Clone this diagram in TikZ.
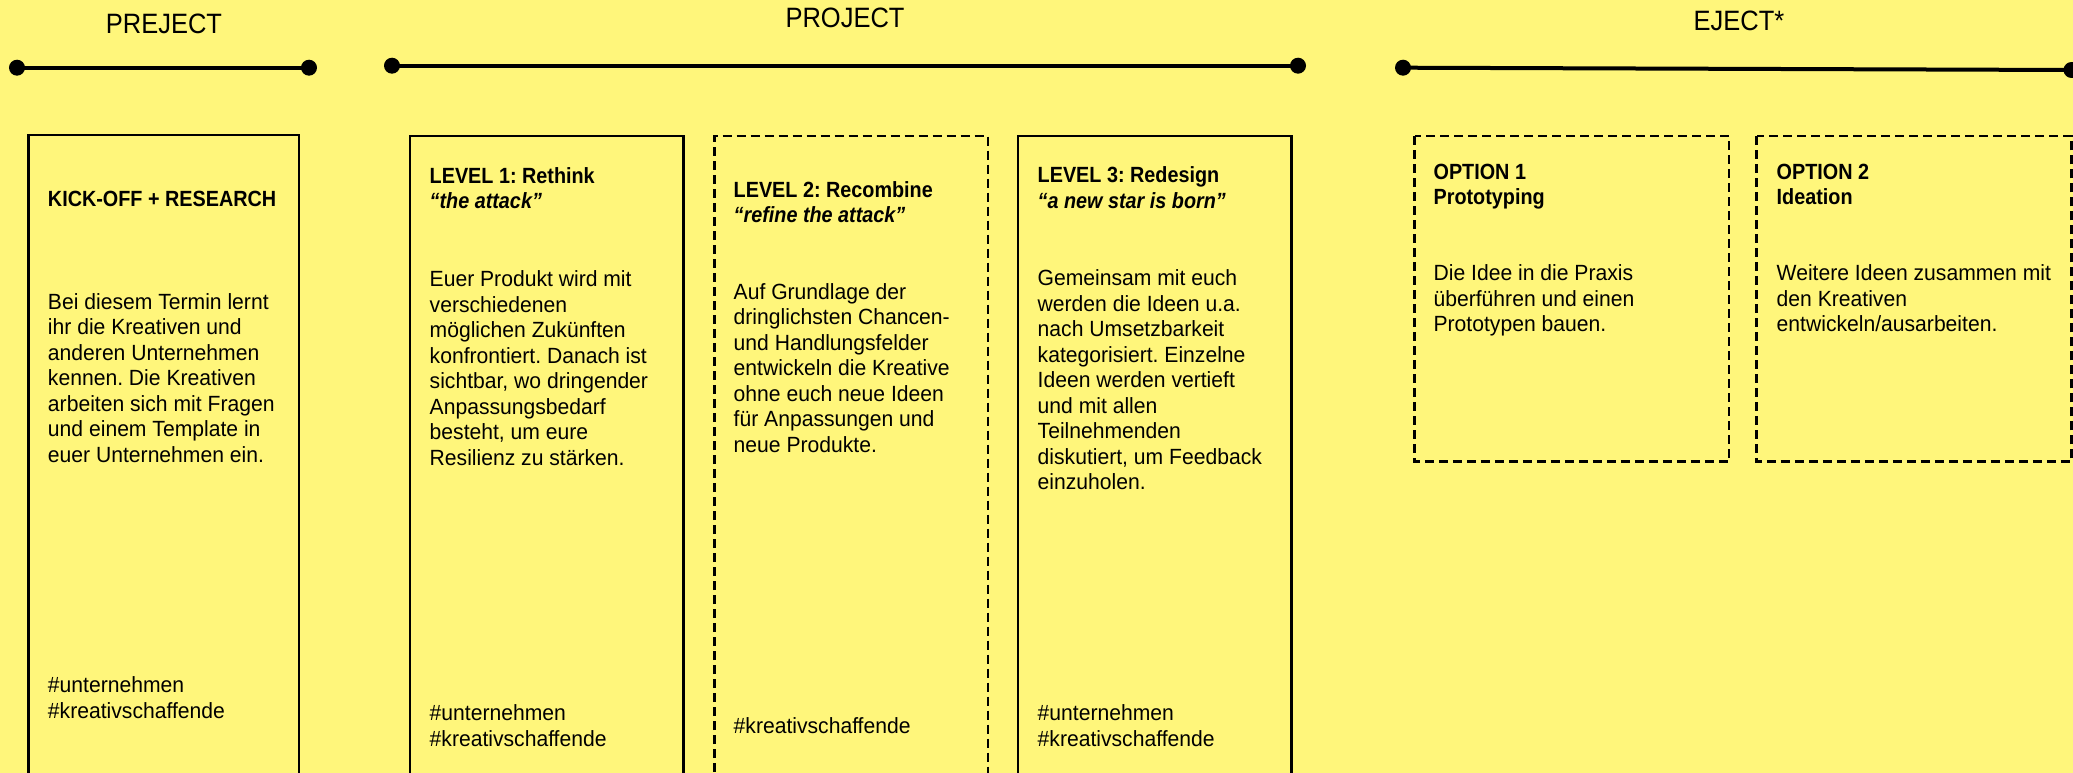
\documentclass[tikz,border=0pt]{standalone}
\usepackage{fontspec}
\setmainfont{Liberation Sans}
\newfontfamily\bodyf[FakeStretch=0.96]{Liberation Sans}
\newfontfamily\headf[FakeStretch=0.9]{Liberation Sans}
\newfontfamily\titlef[FakeStretch=0.91]{Liberation Sans}
\definecolor{bgyellow}{HTML}{FFF67B}
\frenchspacing
\begin{document}
\begin{tikzpicture}[x=1bp,y=-1bp,
  body/.style={font=\bodyf\fontsize{22bp}{25.5bp}\selectfont, anchor=base west, align=left, inner sep=0pt},
  head/.style={font=\headf\bfseries\fontsize{22bp}{25.5bp}\selectfont, anchor=base west, align=left, inner sep=0pt},
  ttl/.style={font=\titlef\fontsize{28bp}{32bp}\selectfont, anchor=base, inner sep=0pt},
  dot/.style={circle, fill=black, inner sep=0pt, minimum size=16bp},
  tline/.style={line width=4bp},
  solidbox/.style={line width=2.5bp},
  dashbox/.style={line width=2.5bp, dash pattern=on 9bp off 5bp}]
\fill[bgyellow] (0,0) rectangle (2073,773);
\useasboundingbox (0,0) rectangle (2073,773);
\clip (0,0) rectangle (2073,773);

% titles
\node[ttl] (tpre) at (164,33.3) {PREJECT};
\node[ttl] (tpro) at (845,27.3) {PROJECT};
\node[ttl] (tej) at (1739,31) {EJECT*};

% timelines
\node[dot] (a1) at (17,67.7) {};
\node[dot] (a2) at (309,67.7) {};
\node[dot] (b1) at (392,65.7) {};
\node[dot] (b2) at (1298,65.7) {};
\node[dot] (c1) at (1403,67.7) {};
\node[dot] (c2) at (2071.5,70) {};
\draw[tline] (a1.center) -- (a2.center);
\draw[tline] (b1.center) -- (b2.center);
\draw[tline] (c1.center) -- (c2.center);

% boxes
\draw[solidbox] (28.6,800) -- (28.6,135) -- (299,135) -- (299,800);
\draw[solidbox] (410,800) -- (410,136) -- (683.5,136) -- (683.5,800);
\draw[dashbox] (714.7,800) -- (714.7,136) -- (988,136) -- (988,800);
\draw[solidbox] (1018,800) -- (1018,136) -- (1291.5,136) -- (1291.5,800);
\draw[dashbox] (1414.5,136) rectangle (1729,461.7);
\draw[dashbox] (1756.6,136) rectangle (2071.5,461.7);

% box 1 (positions are the baseline of the last line)
\node[head] (h1) at (47.8,206.7) {KICK-OFF + RESEARCH};
\node[body] (t1) at (47.8,462.3) {Bei diesem Termin lernt\\ihr die Kreativen und\\anderen Unternehmen\\kennen. Die Kreativen\\arbeiten sich mit Fragen\\und einem Template in\\euer Unternehmen ein.};
\node[body] (g1) at (47.8,718.2) {\#unternehmen\\\#kreativschaffende};

% box 2
\node[head] (h2) at (429.5,208.8) {LEVEL 1: Rethink\\{\itshape “the attack”}};
\node[body] (t2) at (429.5,465.2) {Euer Produkt wird mit\\verschiedenen\\möglichen Zukünften\\konfrontiert. Danach ist\\sichtbar, wo dringender\\Anpassungsbedarf\\besteht, um eure\\Resilienz zu stärken.};
\node[body] (g2) at (429.5,746.2) {\#unternehmen\\\#kreativschaffende};

% box 3
\node[head] (h3) at (733.5,222.8) {LEVEL 2: Recombine\\{\itshape “refine the attack”}};
\node[body] (t3) at (733.5,452) {Auf Grundlage der\\dringlichsten Chancen-\\und Handlungsfelder\\entwickeln die Kreative\\ohne euch neue Ideen\\für Anpassungen und\\neue Produkte.};
\node[body] (g3) at (733.5,733.3) {\#kreativschaffende};

% box 4
\node[head] (h4) at (1037.5,208.2) {LEVEL 3: Redesign\\{\itshape “a new star is born”}};
\node[body] (t4) at (1037.5,489.7) {Gemeinsam mit euch\\werden die Ideen u.a.\\nach Umsetzbarkeit\\kategorisiert. Einzelne\\Ideen werden vertieft\\und mit allen\\Teilnehmenden\\diskutiert, um Feedback\\einzuholen.};
\node[body] (g4) at (1037.5,746.2) {\#unternehmen\\\#kreativschaffende};

% box 5
\node[head] (h5) at (1433.4,204.5) {OPTION 1\\Prototyping};
\node[body] (t5) at (1433.4,331.7) {Die Idee in die Praxis\\überführen und einen\\Prototypen bauen.};

% box 6
\node[head] (h6) at (1776.5,204.5) {OPTION 2\\Ideation};
\node[body] (t6) at (1776.5,331.7) {Weitere Ideen zusammen mit\\den Kreativen\\entwickeln/ausarbeiten.};
\end{tikzpicture}
\end{document}
